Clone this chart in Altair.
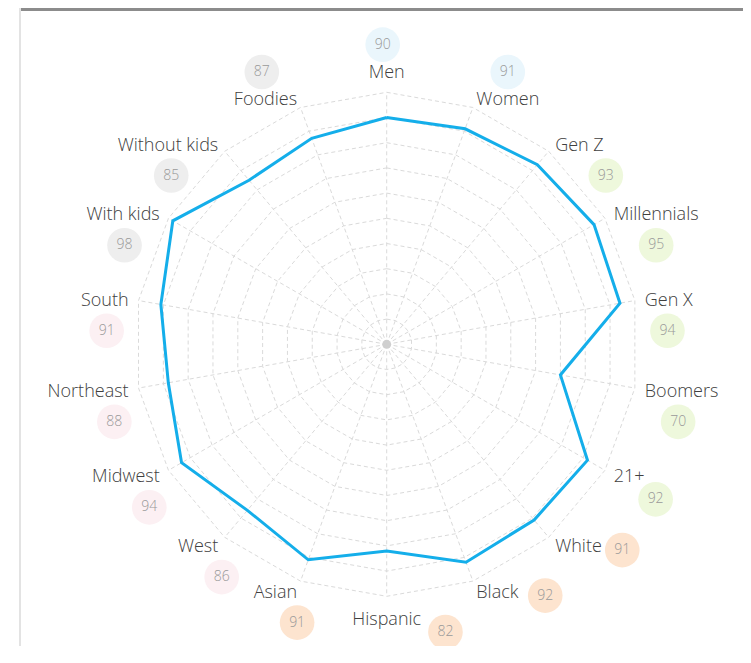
import math
import altair as alt
import pandas as pd

# ---- data ----
categories = ["Men", "Women", "Gen Z", "Millennials", "Gen X", "Boomers", "21+",
              "White", "Black", "Hispanic", "Asian", "West", "Midwest", "Northeast",
              "South", "With kids", "Without kids", "Foodies"]
values = [90, 91, 93, 95, 94, 70, 92, 91, 92, 82, 91, 86, 94, 88, 91, 98, 85, 87]
groups = ["Gender", "Gender", "Age", "Age", "Age", "Age", "Age",
          "Ethnicity", "Ethnicity", "Ethnicity", "Ethnicity",
          "Region", "Region", "Region", "Region",
          "Household", "Household", "Household"]
grid_levels = [10, 20, 30, 40, 50, 60, 70, 80, 90, 100]

group_fill = {"Gender": "#eaf6fc", "Age": "#eef8dc", "Ethnicity": "#fde4cf",
              "Region": "#fcf0f3", "Household": "#eeeeee"}

# ---- layout ----
W, H = 735, 638
PX = 2.52                 # pixels per value unit
CX, CY = 378.7, 336.3     # centre of radar in plot pixels
XMIN, XMAX = -CX / PX, (W - CX) / PX
YMIN, YMAX = -(H - CY) / PX, CY / PX
R_LABEL = 104.0
R_LABEL_TB = 108.6
LABEL_SHIFT = 2.0         # px downward shift of label text
FONT = "Open Sans"
FS = 18
n = len(categories)


def ang(i):
    return math.radians(360.0 * i / n)


def text_width(s):
    w = 0.0
    for c in s:
        if c == " ":
            w += 4.7
        elif c in "ilItfjr":
            w += 5.0
        elif c in "WMmw":
            w += 13.5
        elif c.isupper():
            w += 11.0
        else:
            w += 9.3
    return w


# radar line
radar = pd.DataFrame({
    "cat": categories + [categories[0]],
    "value": values + [values[0]],
    "ord": list(range(n + 1)),
})
radar["x"] = [v * math.sin(ang(i % n)) for i, v in zip(radar["ord"], radar["value"])]
radar["y"] = [v * math.cos(ang(i % n)) for i, v in zip(radar["ord"], radar["value"])]

# grid rings
ring_rows = []
for lv in grid_levels:
    for k in range(n + 1):
        a = ang(k % n)
        ring_rows.append({"level": lv, "k": k, "x": lv * math.sin(a), "y": lv * math.cos(a)})
rings = pd.DataFrame(ring_rows)

spokes = pd.DataFrame({"cat": categories})
spokes["x"] = 0.0
spokes["y"] = 0.0
spokes["x2"] = [grid_levels[-1] * math.sin(ang(i)) for i in range(n)]
spokes["y2"] = [grid_levels[-1] * math.cos(ang(i)) for i in range(n)]

# labels and bubbles
lab_rows = []
for i, (c, v, g) in enumerate(zip(categories, values, groups)):
    a = ang(i)
    deg = 360.0 * i / n
    s, co = math.sin(a), math.cos(a)
    if abs(s) < 1e-6:
        align = "center"
        r = R_LABEL_TB
    elif s > 0:
        align = "left"
        r = R_LABEL
    else:
        align = "right"
        r = R_LABEL
    lx, ly = r * s, r * co
    ax_px, ay_px = CX + lx * PX, CY - ly * PX + LABEL_SHIFT
    w = text_width(c)
    if align == "left":
        cx_px = ax_px + w / 2
    elif align == "right":
        cx_px = ax_px - w / 2
    else:
        cx_px = ax_px
    # bubble placement rule
    if deg > 330 or deg < 30:
        bx, by = cx_px + (4 if align == "left" else -4), ay_px - 28
    elif 130 < deg < 190:
        bx, by = cx_px + w / 2 + 25, ay_px + (12 if align == "center" else 3)
    else:
        dx = 22 if 190 < deg < 270 else (28 if deg in (40.0, 120.0) else 0)
        by = ay_px + (22 if deg == 120.0 else 30)
        bx = cx_px + dx
    lab_rows.append({"cat": c, "value": v, "align": align, "lx": lx, "ly": ly,
                     "bx": (bx - CX) / PX, "by": (CY - by) / PX,
                     "fill": group_fill[g]})
labels = pd.DataFrame(lab_rows)

xs = alt.Scale(domain=[XMIN, XMAX], nice=False, zero=False)
ys = alt.Scale(domain=[YMIN, YMAX], nice=False, zero=False)


def X(f):
    return alt.X(f, type="quantitative", scale=xs, axis=None)


def Y(f):
    return alt.Y(f, type="quantitative", scale=ys, axis=None)


dummy = pd.DataFrame({"a": [0]})

frame_left = alt.Chart(dummy).mark_rule(color="#e3e3e3", strokeWidth=2).encode(
    x=alt.value(12), y=alt.value(0), y2=alt.value(H))
top_bar = alt.Chart(dummy).mark_rect(color="#8c8c8c").encode(
    x=alt.value(13), x2=alt.value(W), y=alt.value(0), y2=alt.value(3))

ring_layer = alt.Chart(rings).mark_line(
    color="#dadada", strokeWidth=1, strokeDash=[4, 3]).encode(
    x=X("x"), y=Y("y"), detail="level:N", order="k:Q")

spoke_layer = alt.Chart(spokes).mark_rule(
    color="#dadada", strokeWidth=1, strokeDash=[4, 3]).encode(
    x=X("x"), y=Y("y"), x2="x2:Q", y2="y2:Q")

centre = alt.Chart(pd.DataFrame({"x": [0.0], "y": [0.0]})).mark_circle(
    color="#cfcfcf", size=80, opacity=1).encode(x=X("x"), y=Y("y"))

radar_layer = alt.Chart(radar).mark_line(
    color="#14aeea", strokeWidth=3, strokeJoin="miter").encode(
    x=X("x"), y=Y("y"), order="ord:Q")

text_layers = []
for al in ["left", "right", "center"]:
    text_layers.append(
        alt.Chart(labels).transform_filter(alt.datum.align == al).mark_text(
            align=al, baseline="middle", font=FONT, fontSize=FS, fontWeight=300,
            color="#404040", dy=LABEL_SHIFT).encode(x=X("lx"), y=Y("ly"), text="cat:N"))

bubbles = alt.Chart(labels).mark_circle(size=1200, opacity=1).encode(
    x=X("bx"), y=Y("by"), color=alt.Color("fill:N", scale=None))
bubble_text = alt.Chart(labels).mark_text(
    align="center", baseline="middle", font=FONT, fontSize=14, fontWeight=300,
    color="#999999").encode(x=X("bx"), y=Y("by"), text="value:Q")

chart = alt.layer(
    frame_left, top_bar, ring_layer, spoke_layer, centre, radar_layer,
    *text_layers, bubbles, bubble_text
).properties(
    width=W, height=H, padding=0, autosize=alt.AutoSizeParams(type="none")
).configure_view(stroke=None)

chart.save("out.html", embed_options={"renderer": "svg", "actions": False})
